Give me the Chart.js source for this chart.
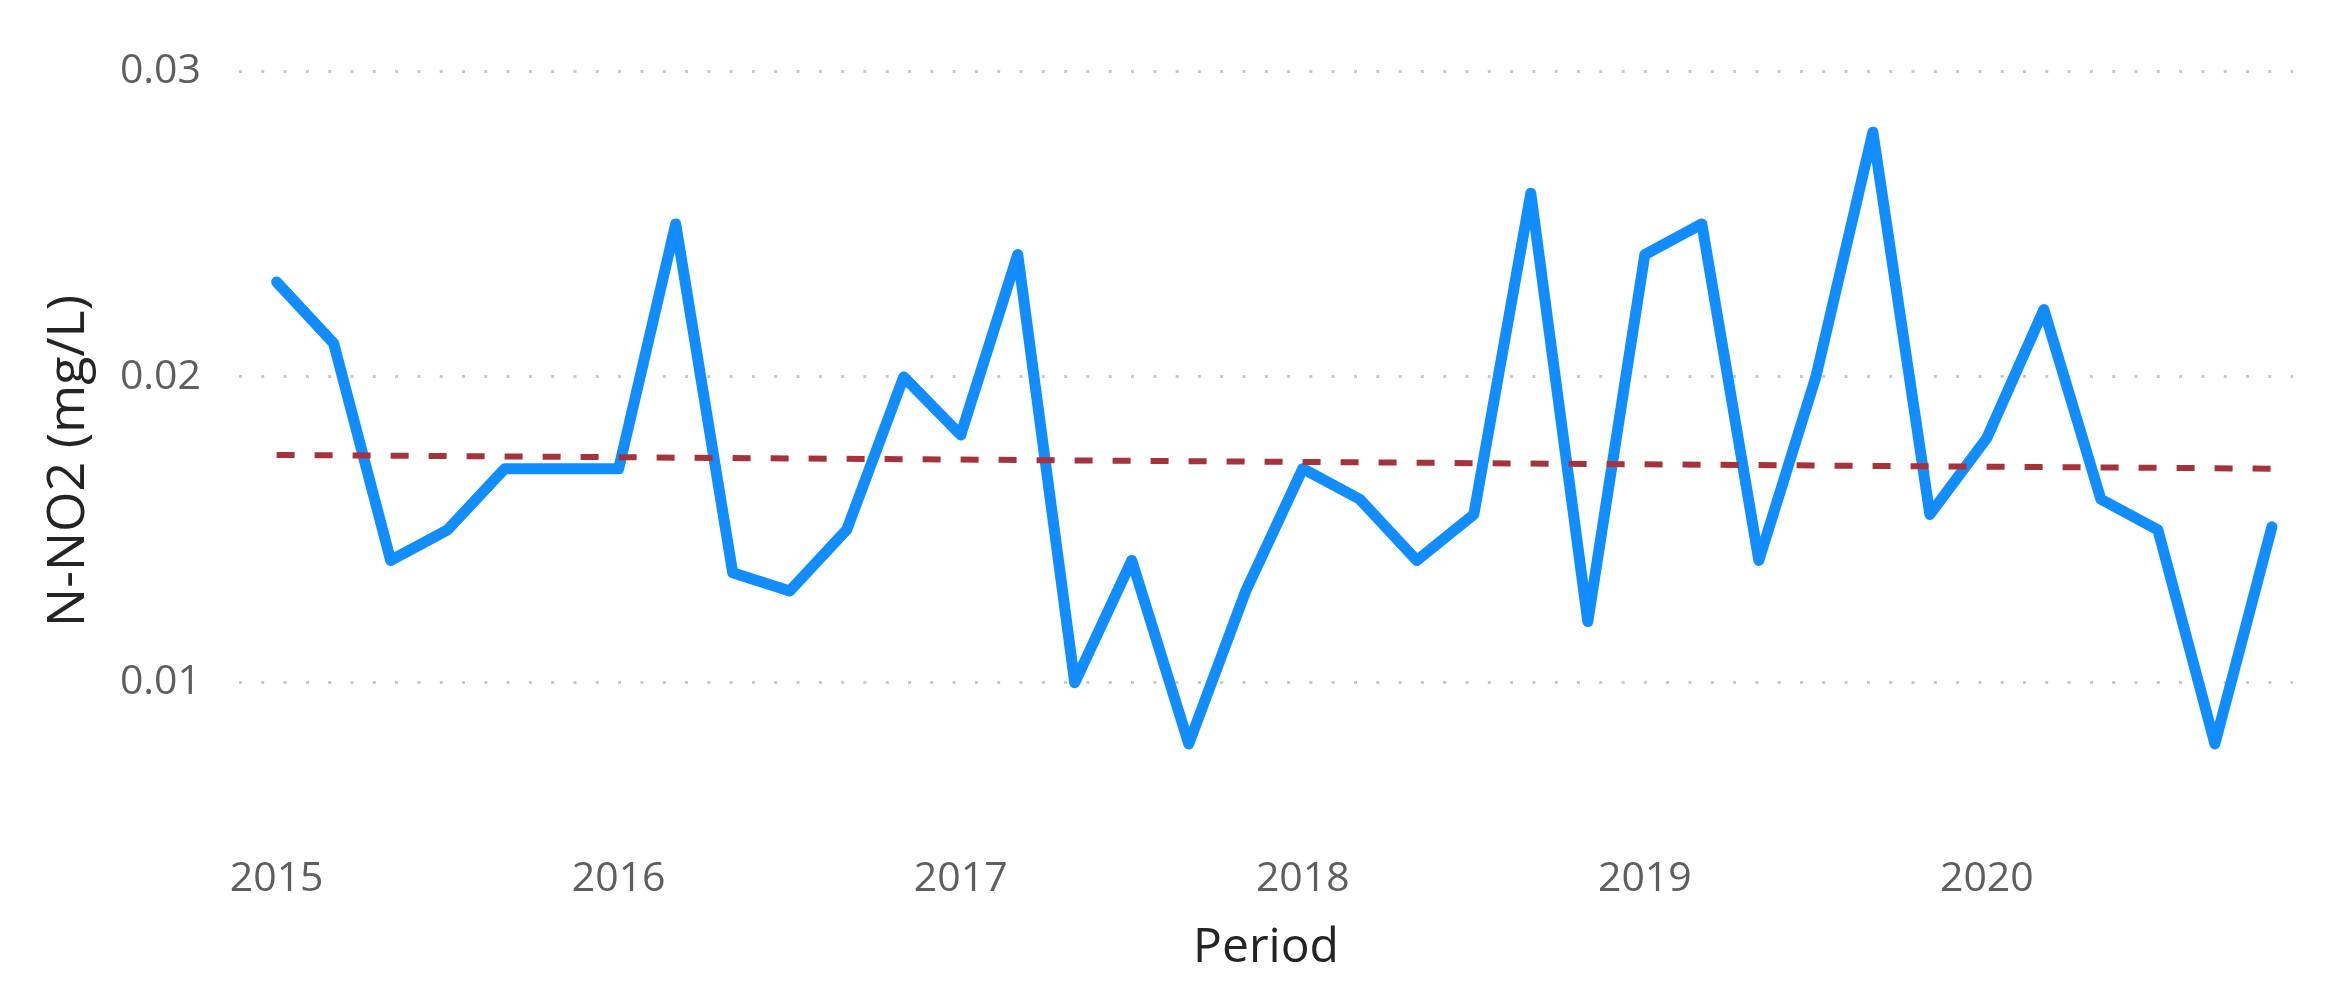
<!DOCTYPE html>
<html>
<head>
<meta charset="utf-8">
<script src="https://cdn.jsdelivr.net/npm/chart.js@4/dist/chart.umd.min.js"></script>
<style>
  body { margin: 0; background: #fff; }
  #wrap { width: 2336px; height: 1008px; }
</style>
</head>
<body>
<div id="wrap"><canvas id="chart1" width="2336" height="1008"></canvas></div>
<script>
// bi-monthly samples
const periods = [
  '2015-01','2015-03','2015-05','2015-07','2015-09','2015-11',
  '2016-01','2016-03','2016-05','2016-07','2016-09','2016-11',
  '2017-01','2017-03','2017-05','2017-07','2017-09','2017-11',
  '2018-01','2018-03','2018-05','2018-07','2018-09','2018-11',
  '2019-01','2019-03','2019-05','2019-07','2019-09','2019-11',
  '2020-01','2020-03','2020-05','2020-07','2020-09','2020-11'
];
const no2Values = [
  0.0231, 0.0211, 0.0140, 0.0150, 0.0170, 0.0170,
  0.0170, 0.0250, 0.0136, 0.0130, 0.0150, 0.0200,
  0.0181, 0.0240, 0.0100, 0.0140, 0.0080, 0.0130,
  0.0170, 0.0160, 0.0140, 0.0155, 0.0260, 0.0120,
  0.0240, 0.0250, 0.0140, 0.0200, 0.0280, 0.0155,
  0.0180, 0.0222, 0.0160, 0.0150, 0.0080, 0.0151
];
// trend line end values
const trendValues = [0.01745, 0.01700];
const yearTicks = [2015, 2016, 2017, 2018, 2019, 2020];
const yTicks = [0.01, 0.02, 0.03];

function toYear(p) {
  const [y, m] = p.split('-').map(Number);
  return y + (m - 1) / 12;
}

const xs = periods.map(toYear);
const seriesPoints = xs.map((x, i) => ({ x: x, y: no2Values[i] }));
const trendPoints = [
  { x: xs[0], y: trendValues[0] },
  { x: xs[xs.length - 1], y: trendValues[1] }
];

const fontName = "'Open Sans', 'Noto Sans', sans-serif";

const config = {
  type: 'line',
  data: {
    datasets: [
      {
        label: 'Trend',
        data: trendPoints,
        borderColor: '#A6323C',
        borderWidth: 6,
        borderDash: [18, 20],
        pointRadius: 0,
        fill: false,
        order: 0
      },
      {
        label: 'N-NO2',
        data: seriesPoints,
        borderColor: '#118DFF',
        borderWidth: 11,
        borderJoinStyle: 'round',
        borderCapStyle: 'round',
        pointRadius: 0,
        tension: 0,
        fill: false,
        order: 1
      }
    ]
  },
  options: {
    responsive: false,
    animation: false,
    layout: { padding: { top: 71, right: 43, left: 0, bottom: 0 } },
    plugins: { legend: { display: false }, tooltip: { enabled: false } },
    scales: {
      x: {
        type: 'linear',
        min: 2014.89,
        max: 2020.895,
        afterBuildTicks: (scale) => { scale.ticks = yearTicks.map(v => ({ value: v })); },
        afterFit: (scale) => { scale.height = 157; },
        grid: { display: false, drawTicks: false },
        border: { display: false },
        ticks: {
          color: '#605E5C',
          padding: 4,
          font: { family: fontName, size: 41 },
          callback: (v) => String(v)
        },
        title: {
          display: true,
          text: 'Period',
          color: '#252423',
          font: { family: fontName, size: 48 },
          padding: { top: 0, bottom: 31 }
        }
      },
      y: {
        min: 0.0045,
        max: 0.03,
        afterBuildTicks: (scale) => { scale.ticks = yTicks.map(v => ({ value: v })); },
        afterFit: (scale) => { scale.width = 239; },
        grid: {
          color: '#c8c8c8',
          lineWidth: 3,
          drawTicks: false
        },
        border: { display: false, dash: [3, 19.3] },
        ticks: {
          color: '#605E5C',
          padding: 38,
          font: { family: fontName, size: 41 },
          callback: (v) => v.toFixed(2)
        },
        title: {
          display: true,
          text: 'N-NO2 (mg/L)',
          color: '#252423',
          font: { family: fontName, size: 52 },
          padding: { top: 38, bottom: 0 }
        }
      }
    }
  }
};

const myChart = new Chart(document.getElementById('chart1'), config);
</script>
</body>
</html>
